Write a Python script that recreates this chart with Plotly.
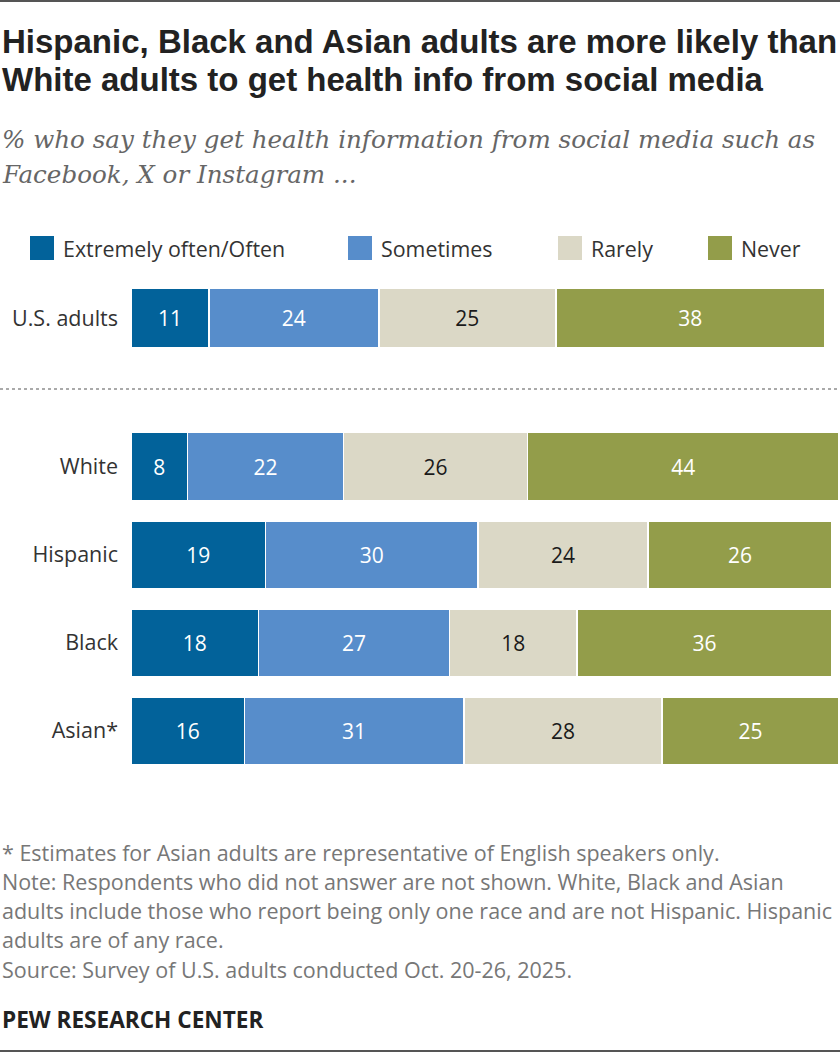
import plotly.graph_objects as go

# ---- data ----
CATEGORIES = ["Extremely often/Often", "Sometimes", "Rarely", "Never"]
TOTAL_LABEL = ["U.S. adults"]
TOTAL_VALUES = [11, 24, 25, 38]  # one value per category
GROUPS = ["White", "Hispanic", "Black", "Asian*"]
GROUP_VALUES = {
    "Extremely often/Often": [8, 19, 18, 16],
    "Sometimes": [22, 30, 27, 31],
    "Rarely": [26, 24, 18, 28],
    "Never": [44, 26, 36, 25],
}

COLORS = ["#02629A", "#578DCB", "#DBD8C6", "#939D4A"]
TEXT_COLORS = ["white", "white", "#1a1a1a", "white"]

W, H = 840, 1052
LABEL_FONT = "Open Sans, Noto Sans, sans-serif"


def py(px):
    # pixel from top -> paper y
    return 1 - px / H


fig = go.Figure()

for i, cat in enumerate(CATEGORIES):
    common = dict(
        orientation="h",
        name=cat,
        marker=dict(color=COLORS[i], line=dict(color="white", width=1.5)),
        textposition="inside",
        insidetextanchor="middle",
        textangle=0,
        constraintext="none",
        textfont=dict(family=LABEL_FONT, size=21, color=TEXT_COLORS[i]),
        hoverinfo="skip",
        showlegend=False,
    )
    fig.add_trace(go.Bar(
        y=TOTAL_LABEL, x=[TOTAL_VALUES[i]], text=[TOTAL_VALUES[i]],
        xaxis="x", yaxis="y", **common,
    ))
    fig.add_trace(go.Bar(
        y=GROUPS, x=GROUP_VALUES[cat], text=GROUP_VALUES[cat],
        xaxis="x2", yaxis="y2", **common,
    ))

xdom = [131 / W, 839 / W]
axis_x = dict(range=[0, 100], domain=xdom, visible=False, fixedrange=True)
axis_y = dict(
    showgrid=False, zeroline=False, showline=False, ticks="",
    ticklabelstandoff=12,
    tickfont=dict(family=LABEL_FONT, size=21.5, color="#333333"),
    autorange="reversed", automargin=False, fixedrange=True,
)

fig.update_layout(
    width=W, height=H,
    margin=dict(l=0, r=0, t=0, b=0),
    paper_bgcolor="white", plot_bgcolor="white",
    barmode="stack",
    bargap=20 / 88,
    xaxis=dict(axis_x, anchor="y"),
    xaxis2=dict(axis_x, anchor="y2"),
    yaxis=dict(axis_y, domain=[py(362), py(274)], anchor="x"),
    yaxis2=dict(axis_y, domain=[py(775), py(422.7)], anchor="x2"),
)

# top bar is thinner than the group bars
fig.update_traces(width=60 / 88, selector=dict(yaxis="y"))

shapes = [
    dict(type="line", xref="paper", yref="paper", x0=0, x1=1, y0=py(1), y1=py(1),
         line=dict(color="#555555", width=2)),
    dict(type="line", xref="paper", yref="paper", x0=0, x1=1, y0=py(1051), y1=py(1051),
         line=dict(color="#555555", width=2)),
    dict(type="line", xref="paper", yref="paper", x0=0, x1=1, y0=py(389), y1=py(389),
         line=dict(color="#aaaaaa", width=2, dash="dot")),
]

annotations = []


def add_text(text, x_px, y_px, size, color, family, bold=False, italic=False):
    if bold:
        text = f"<b>{text}</b>"
    if italic:
        text = f"<i>{text}</i>"
    annotations.append(dict(
        text=text, x=x_px / W, y=py(y_px), xref="paper", yref="paper",
        xanchor="left", yanchor="middle", showarrow=False, align="left",
        font=dict(size=size, color=color, family=family),
    ))


TITLE_FONT = "Liberation Sans, Arial, sans-serif"
add_text("Hispanic, Black and Asian adults are more likely than", 0, 41, 33, "#222222", TITLE_FONT, bold=True)
add_text("White adults to get health info from social media", 0, 80, 33, "#222222", TITLE_FONT, bold=True)

SUB_FONT = "DejaVu Serif, serif"
add_text("% who say they get health information from social media such as", 0, 139, 24.6, "#666666", SUB_FONT, italic=True)
add_text("Facebook, X or Instagram ...", 0, 175, 24.6, "#666666", SUB_FONT, italic=True)

# legend: swatches + labels
legend_x = [30, 348, 558, 708]
for i, cat in enumerate(CATEGORIES):
    x0 = legend_x[i]
    shapes.append(dict(type="rect", xref="paper", yref="paper",
                       x0=x0 / W, x1=(x0 + 24) / W, y0=py(260), y1=py(236),
                       fillcolor=COLORS[i], line=dict(width=0)))
    add_text(cat, x0 + 31, 248, 21.4, "#333333", LABEL_FONT)

NOTE_FONT = "Open Sans, Noto Sans, sans-serif"
notes = [
    "* Estimates for Asian adults are representative of English speakers only.",
    "Note: Respondents who did not answer are not shown. White, Black and Asian",
    "adults include those who report being only one race and are not Hispanic. Hispanic",
    "adults are of any race.",
    "Source: Survey of U.S. adults conducted Oct. 20-26, 2025.",
]
for k, line in enumerate(notes):
    add_text(line, 0, 852 + k * 29.3, 21.5, "#777777", NOTE_FONT)

add_text("PEW RESEARCH CENTER", 0, 1019, 22.6, "#222222", NOTE_FONT, bold=True)

fig.update_layout(shapes=shapes, annotations=annotations)

fig.write_html(
    "out.html",
    config={"displayModeBar": False},
    post_script="document.body.style.margin='0';",
)
